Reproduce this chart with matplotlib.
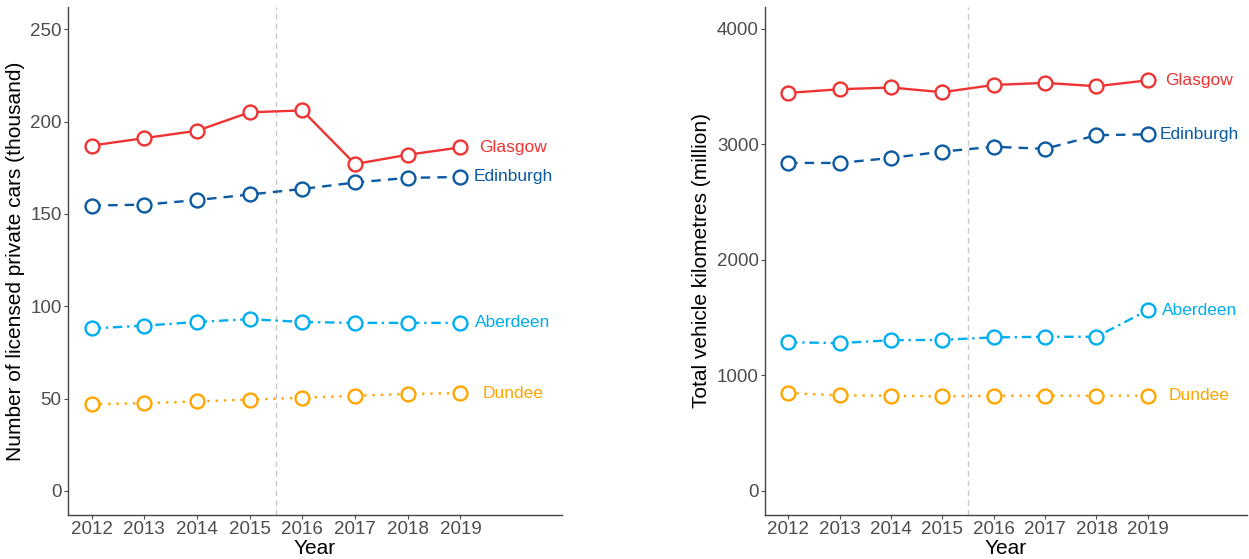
import numpy as np
import matplotlib.pyplot as plt

plt.rcParams['font.family'] = ['Liberation Sans', 'DejaVu Sans']

years = [2012, 2013, 2014, 2015, 2016, 2017, 2018, 2019]
cities = ['Glasgow', 'Edinburgh', 'Aberdeen', 'Dundee']

# licensed private cars (thousand)
cars_glasgow = [187, 191, 195, 205, 206, 177, 182, 186]
cars_edinburgh = [154.5, 155, 157.5, 160.5, 163.5, 167, 169.5, 170]
cars_aberdeen = [88, 89.5, 91.5, 93, 91.5, 91, 91, 91]
cars_dundee = [47, 47.5, 48.5, 49.5, 50.5, 51.5, 52.5, 53]

# total vehicle kilometres (million)
km_glasgow = [3446, 3478, 3493, 3452, 3515, 3533, 3504, 3555]
km_edinburgh = [2840, 2840, 2883, 2938, 2980, 2962, 3080, 3088]
km_aberdeen = [1288, 1280, 1305, 1308, 1330, 1335, 1335, 1565]
km_dundee = [848, 828, 825, 818, 825, 825, 825, 825]

colors = {'Glasgow': '#EE3333', 'Edinburgh': '#0B5AA2',
          'Aberdeen': '#00AEEF', 'Dundee': '#FFA500'}
styles = {'Glasgow': '-', 'Edinburgh': (0, (4, 3)),
          'Aberdeen': (0, (4, 2, 1, 2)), 'Dundee': (0, (1, 2.5))}

panels = [
    ('Number of licensed private cars (thousand)',
     [cars_glasgow, cars_edinburgh, cars_aberdeen, cars_dundee],
     [0, 50, 100, 150, 200, 250], (-13, 262)),
    ('Total vehicle kilometres (million)',
     [km_glasgow, km_edinburgh, km_aberdeen, km_dundee],
     [0, 1000, 2000, 3000, 4000], (-208, 4190)),
]

fig = plt.figure(figsize=(12.49, 5.59), dpi=100)
axes = [fig.add_axes([0.0544, 0.0787, 0.3956, 0.9088]),
        fig.add_axes([0.6125, 0.0787, 0.3859, 0.9088])]

for ax, (ylabel, series, yticks, ylim) in zip(axes, panels):
    ax.axvline(2015.5, color='#C8C8C8', linestyle=(0, (4, 3)), linewidth=1, zorder=1)
    for city, vals in zip(cities, series):
        ax.plot(years, vals, color=colors[city], linestyle=styles[city], linewidth=1.7,
                marker='o', markersize=10, markerfacecolor='white',
                markeredgecolor=colors[city], markeredgewidth=1.7, zorder=3)
        ax.text(2020, vals[-1], city, color=colors[city], fontsize=12.5,
                ha='center', va='center')
    ax.set_xlim(2011.55, 2020.93)
    ax.set_ylim(*ylim)
    ax.set_xticks(years)
    ax.set_yticks(yticks)
    ax.set_xlabel('Year', fontsize=15, labelpad=0.5)
    ax.set_ylabel(ylabel, fontsize=15, labelpad=4)
    ax.tick_params(axis='both', labelsize=13.5, labelcolor='#4D4D4D', color='#4D4D4D',
                   length=3, width=0.8, pad=1.5)
    for side in ['top', 'right']:
        ax.spines[side].set_visible(False)
    for side in ['left', 'bottom']:
        ax.spines[side].set_color('#444444')
        ax.spines[side].set_linewidth(1)

fig.savefig('out.png', dpi=100)
